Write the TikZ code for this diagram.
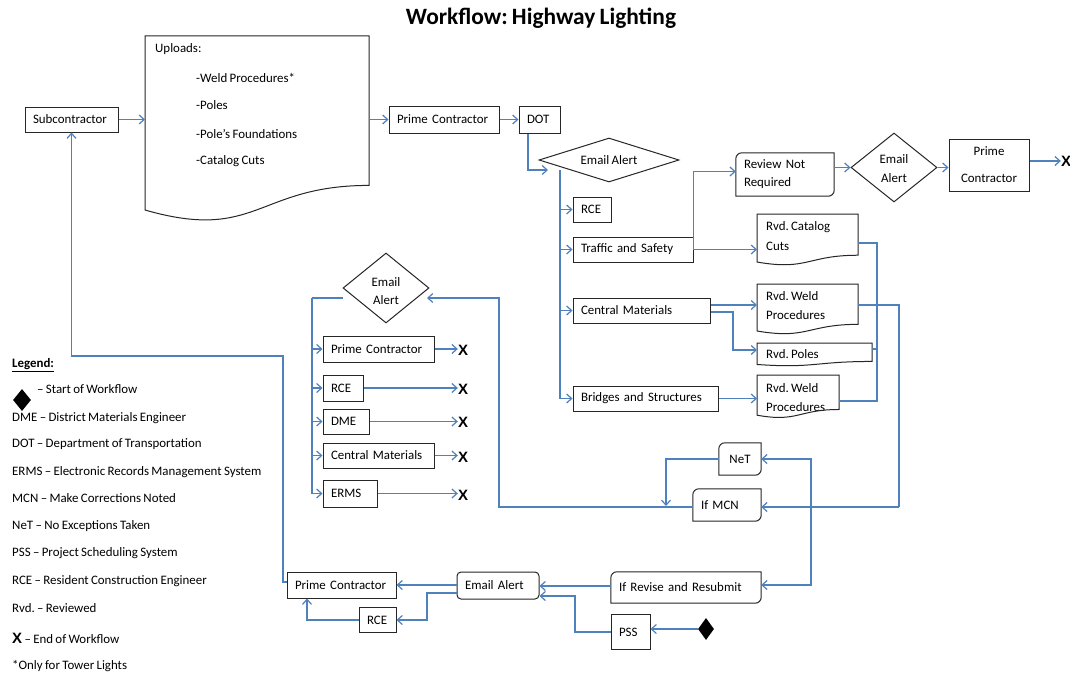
\documentclass[tikz,border=0pt]{standalone}
\usepackage{fontspec}
\setmainfont{Carlito}[WordSpace=0.8]
\newfontfamily\xfont{Liberation Sans}
\usetikzlibrary{arrows.meta,shapes.geometric}
\definecolor{flowblue}{HTML}{4F81BD}
\definecolor{edgegray}{HTML}{262626}
\frenchspacing
\newcommand\boxfont{\fontsize{12.9}{15}\selectfont}
\newcommand\xmarkfont{\xfont\bfseries\fontsize{15}{15}\selectfont}
% document-shaped outline: left x, top y, right x, nominal height
\newcommand\docpath[4]{(#1,#2) -- (#3,#2) -- (#3,{#2+0.802*#4}) .. controls ({(#1+#3)/2},{#2+0.802*#4}) and ({(#1+#3)/2},{#2+1.107*#4}) .. (#1,{#2+0.934*#4}) -- cycle}
% rectangle with two diagonal corners rounded
\newcommand\rdoutline[1]{\draw[outline] (#1.north east) -- (#1.east) [rounded corners=6pt] -- (#1.south east) -- (#1.south) [sharp corners] -- (#1.south west) -- (#1.west) [rounded corners=6pt] -- (#1.north west) -- (#1.north) [sharp corners] -- cycle;}
\begin{document}
\begin{tikzpicture}[x=1pt,y=-1pt,
  lbl/.style={font=\boxfont, inner sep=0pt},
  box/.style={draw=edgegray, line width=1pt, fill=white, font=\boxfont, inner xsep=8pt, inner ysep=0pt, align=left},
  rbox/.style={font=\boxfont, inner xsep=8pt, inner ysep=0pt, align=left},
  ghost/.style={inner sep=0pt},
  dia/.style={draw=edgegray, line width=1pt, fill=white, diamond, inner sep=0pt},
  dialbl/.style={font=\boxfont, inner sep=0pt, align=center},
  startmark/.style={fill=black, diamond, inner sep=0pt},
  outline/.style={draw=edgegray, line width=1pt},
  arr/.style={draw=flowblue, line width=1.2pt, -{Straight Barb[length=5pt,width=9pt]}},
  ln/.style={draw=flowblue, line width=1.2pt},
  xmark/.style={font=\xmarkfont, inner sep=0pt},
]
\fill[white] (0,0) rectangle (1070,677);
\useasboundingbox (0,0) rectangle (1070,677);

% title
\node[font=\bfseries\fontsize{23.4}{28}\selectfont, inner sep=0pt] (title) at (541,18) {Workflow: Highway Lighting};

% upload chain
\node[box, text width=77pt, minimum height=25pt] (sub) at (71.5,119.5) {Subcontractor};
\draw[outline, fill=white] \docpath{145}{36}{369}{186.3};
\node[ghost, anchor=north west, minimum width=224pt, minimum height=149pt] (upl) at (145,36) {};
\node[lbl, anchor=west] (u0) at (155,49) {Uploads:};
\node[lbl, anchor=west] (u1) at (196,78) {-Weld Procedures*};
\node[lbl, anchor=west] (u2) at (196,105) {-Poles};
\node[lbl, anchor=west] (u3) at (196,134) {-Pole’s Foundations};
\node[lbl, anchor=west] (u4) at (196,161) {-Catalog Cuts};
\node[box, text width=94pt, minimum height=27pt] (pc1) at (444,119.5) {Prime Contractor};
\node[box, text width=25pt, minimum height=27pt] (dot) at (539.5,119.5) {DOT};
\node[dia, minimum width=140pt, minimum height=44pt] (ea1) at (609,160) {};
\node[dialbl] (ea1t) at (609,160) {Email Alert};

% reviewers
\node[box, text width=22pt, minimum height=25pt] (rce1) at (592,209.5) {RCE};
\node[box, text width=104pt, minimum height=25pt] (ts) at (633,249.5) {Traffic and Safety};
\node[box, text width=121pt, minimum height=25pt] (cm1) at (641.5,310.5) {Central Materials};
\node[box, text width=129pt, minimum height=25pt] (bs) at (645.5,398.5) {Bridges and Structures};

% review not required branch
\node[rbox, text width=82pt, minimum height=43pt] (rnr) at (785,174.5) {Review Not\\[3pt]Required};
\rdoutline{rnr}
\node[dia, minimum width=86pt, minimum height=69pt] (ea2) at (894,167.5) {};
\node[dialbl] (ea2t) at (894,169) {Email\\[4pt]Alert};
\node[box, text width=64pt, minimum height=52pt, align=center] (pc2) at (989,165) {Prime\\[12pt]Contractor};
\node[xmark] (x1) at (1066,161) {X};

% reviewed documents
\draw[outline] \docpath{757}{214}{858}{51.4};
\node[ghost, anchor=north west, minimum width=101pt, minimum height=41pt] (rcc) at (757,214) {};
\node[lbl, anchor=west] (rcct1) at (766,227) {Rvd. Catalog};
\node[lbl, anchor=west] (rcct2) at (766,246) {Cuts};
\draw[outline] \docpath{757}{284}{858}{50.3};
\node[ghost, anchor=north west, minimum width=101pt, minimum height=40pt] (rwp1) at (757,284) {};
\node[lbl, anchor=west] (rwpa1) at (766,296) {Rvd. Weld};
\node[lbl, anchor=west] (rwpa2) at (766,315) {Procedures};
\draw[outline] \docpath{757}{343}{872}{23};
\node[ghost, anchor=north west, minimum width=115pt, minimum height=18pt] (rp) at (757,343) {};
\node[lbl, anchor=west] (rpt) at (766,354) {Rvd. Poles};
\begin{scope}
  \clip \docpath{757}{375}{839}{43};
  \node[lbl, anchor=west] (rwpb1) at (766,388) {Rvd. Weld};
  \node[lbl, anchor=west] (rwpb2) at (766,407) {Procedures};
\end{scope}
\draw[outline] \docpath{757}{375}{839}{43};
\node[ghost, anchor=north west, minimum width=82pt, minimum height=34pt] (rwp2) at (757,375) {};

% outcomes
\node[rbox, text width=26pt, minimum height=32pt, align=center] (net) at (740,459) {NeT};
\rdoutline{net}
\node[rbox, text width=52pt, minimum height=32pt] (ifmcn) at (727,505) {If MCN};
\rdoutline{ifmcn}
\node[rbox, text width=134pt, minimum height=31pt] (ifrr) at (686,587.5) {If Revise and Resubmit};
\rdoutline{ifrr}

% notification after MCN
\node[dia, minimum width=86pt, minimum height=70pt] (ea3) at (386,288) {};
\node[dialbl] (ea3t) at (386,291) {Email\\[3pt]Alert};
\node[box, text width=95pt, minimum height=26pt] (pc3) at (378.5,349) {Prime Contractor};
\node[box, text width=24pt, minimum height=26pt] (rce2) at (343,388) {RCE};
\node[box, text width=30pt, minimum height=25pt] (dme) at (346,421.5) {DME};
\node[box, text width=95pt, minimum height=25pt] (cm2) at (378.5,455.5) {Central Materials};
\node[box, text width=38pt, minimum height=27pt] (erms) at (350,493.5) {ERMS};
\node[xmark] (x2) at (463,350) {X};
\node[xmark] (x3) at (463,389) {X};
\node[xmark] (x4) at (463,422) {X};
\node[xmark] (x5) at (463,457) {X};
\node[xmark] (x6) at (463,495) {X};

% resubmittal loop
\node[box, text width=93pt, minimum height=26pt] (pc4) at (341.5,585) {Prime Contractor};
\node[box, text width=21pt, minimum height=25pt] (rce3) at (377.5,620) {RCE};
\node[box, rounded corners=4pt, text width=66pt, minimum height=27pt] (ea4) at (498,585.5) {Email Alert};
\node[box, text width=23pt, minimum height=35pt] (pss) at (630.5,632) {PSS};
\node[startmark, minimum width=16pt, minimum height=22pt] (start) at (706,629) {};

% legend
\node[lbl, anchor=west] (lg0) at (12,365) {\underline{\textbf{Legend:}}};
\node[startmark, minimum width=18pt, minimum height=22pt] (lgd) at (22,400) {};
\node[lbl, anchor=west] (lg1) at (37,389) {– Start of Workflow};
\node[lbl, anchor=west] (lg2) at (12,418) {DME – District Materials Engineer};
\node[lbl, anchor=west] (lg3) at (12,444) {DOT – Department of Transportation};
\node[lbl, anchor=west] (lg4) at (12,472) {ERMS – Electronic Records Management System};
\node[lbl, anchor=west] (lg5) at (12,498) {MCN – Make Corrections Noted};
\node[lbl, anchor=west] (lg6) at (12,526) {NeT – No Exceptions Taken};
\node[lbl, anchor=west] (lg7) at (12,553) {PSS – Project Scheduling System};
\node[lbl, anchor=west] (lg8) at (12,581) {RCE – Resident Construction Engineer};
\node[lbl, anchor=west] (lg9) at (12,608) {Rvd. – Reviewed};
\node[lbl, anchor=west] (lg10) at (12,638) {{\xmarkfont X} – End of Workflow};
\node[lbl, anchor=west] (lg11) at (12,666) {*Only for Tower Lights};

% connectors: upload chain
\draw[arr] (sub.east) -- (sub.east -| upl.west);
\draw[arr] (pc1.west -| upl.east) -- (pc1.west);
\draw[arr] (pc1.east) -- (dot.west);
\coordinate (ea1in) at (548,170);
\draw[arr] (dot.south -| 528,0) |- (ea1in);
\coordinate (bus1) at (560,170);
\foreach \t in {rce1,ts,cm1,bs} \draw[arr] (bus1) |- (\t.west);

% connectors: traffic and safety
\draw[arr] (ts.east) |- ([yshift=3pt]rnr.west);
\draw[arr] (ts.east) -- (ts.east -| rcc.west);
\draw[arr] (rnr.east |- ea2.west) -- (ea2.west);
\draw[arr] (ea2.east) -- (ea2.east -| pc2.west);
\draw[arr] (pc2.east |- x1.west) -- (x1.west);

% connectors: central materials, bridges
\draw[arr] (cm1.east |- 0,305) -- (rwp1.west |- 0,305);
\draw[arr] (cm1.east |- 0,312) -| (733,350) -- (rp.west |- 0,350);
\draw[arr] (bs.east) -- (bs.east -| rwp2.west);

% connectors: reviewed documents
\draw[ln] (rcc.east |- 0,243) -| (877,401) -- (rwp2.east |- 0,401);
\draw[ln] (rp.east |- 0,349) -- (877,349);
\coordinate (j1) at (899,507);
\coordinate (j2) at (811,507);
\draw[ln] (rwp1.east |- 0,305) -| (j1);
\draw[arr] (j1) -- (ifmcn.east |- j1);
\draw[arr] (j2) |- (net.east);
\draw[arr] (j2) |- (ifrr.east |- 0,585);
\coordinate (netdrop) at (666,506);
\draw[arr] (net.west) -| (netdrop);

% connectors: MCN notification
\coordinate (ea3in) at (427,298);
\draw[arr] (ifmcn.west |- j1) -| (499,298) -- (ea3in);
\coordinate (bus2) at (312,298);
\draw[ln] (ea3.west |- bus2) -- (bus2);
\foreach \t in {pc3,rce2,dme,cm2,erms} \draw[arr] (bus2) |- (\t.west);
\draw[arr] (pc3.east) -- (pc3.east -| x2.west);
\draw[arr] (rce2.east) -- (rce2.east -| x3.west);
\draw[arr] (dme.east) -- (dme.east -| x4.west);
\draw[arr] (cm2.east) -- (cm2.east -| x5.west);
\draw[arr] (erms.east) -- (erms.east -| x6.west);

% connectors: resubmittal loop
\draw[arr] (ifrr.west |- 0,586) -- (ea4.east |- 0,586);
\draw[arr] (ea4.west |- 0,585) -- (pc4.east |- 0,585);
\draw[arr] (ea4.west |- 0,593) -| (427,620) -- (rce3.east);
\draw[arr] (rce3.west) -| (pc4.south -| 307,0);
\draw[arr] (pss.west) -| (575,596) -- (ea4.east |- 0,596);
\draw[arr] (start.west) -- (start.west -| pss.east);
\draw[arr] (pc4.west |- 0,582) -- (283,582) -- (283,356) -| (sub.south);
\end{tikzpicture}
\end{document}
